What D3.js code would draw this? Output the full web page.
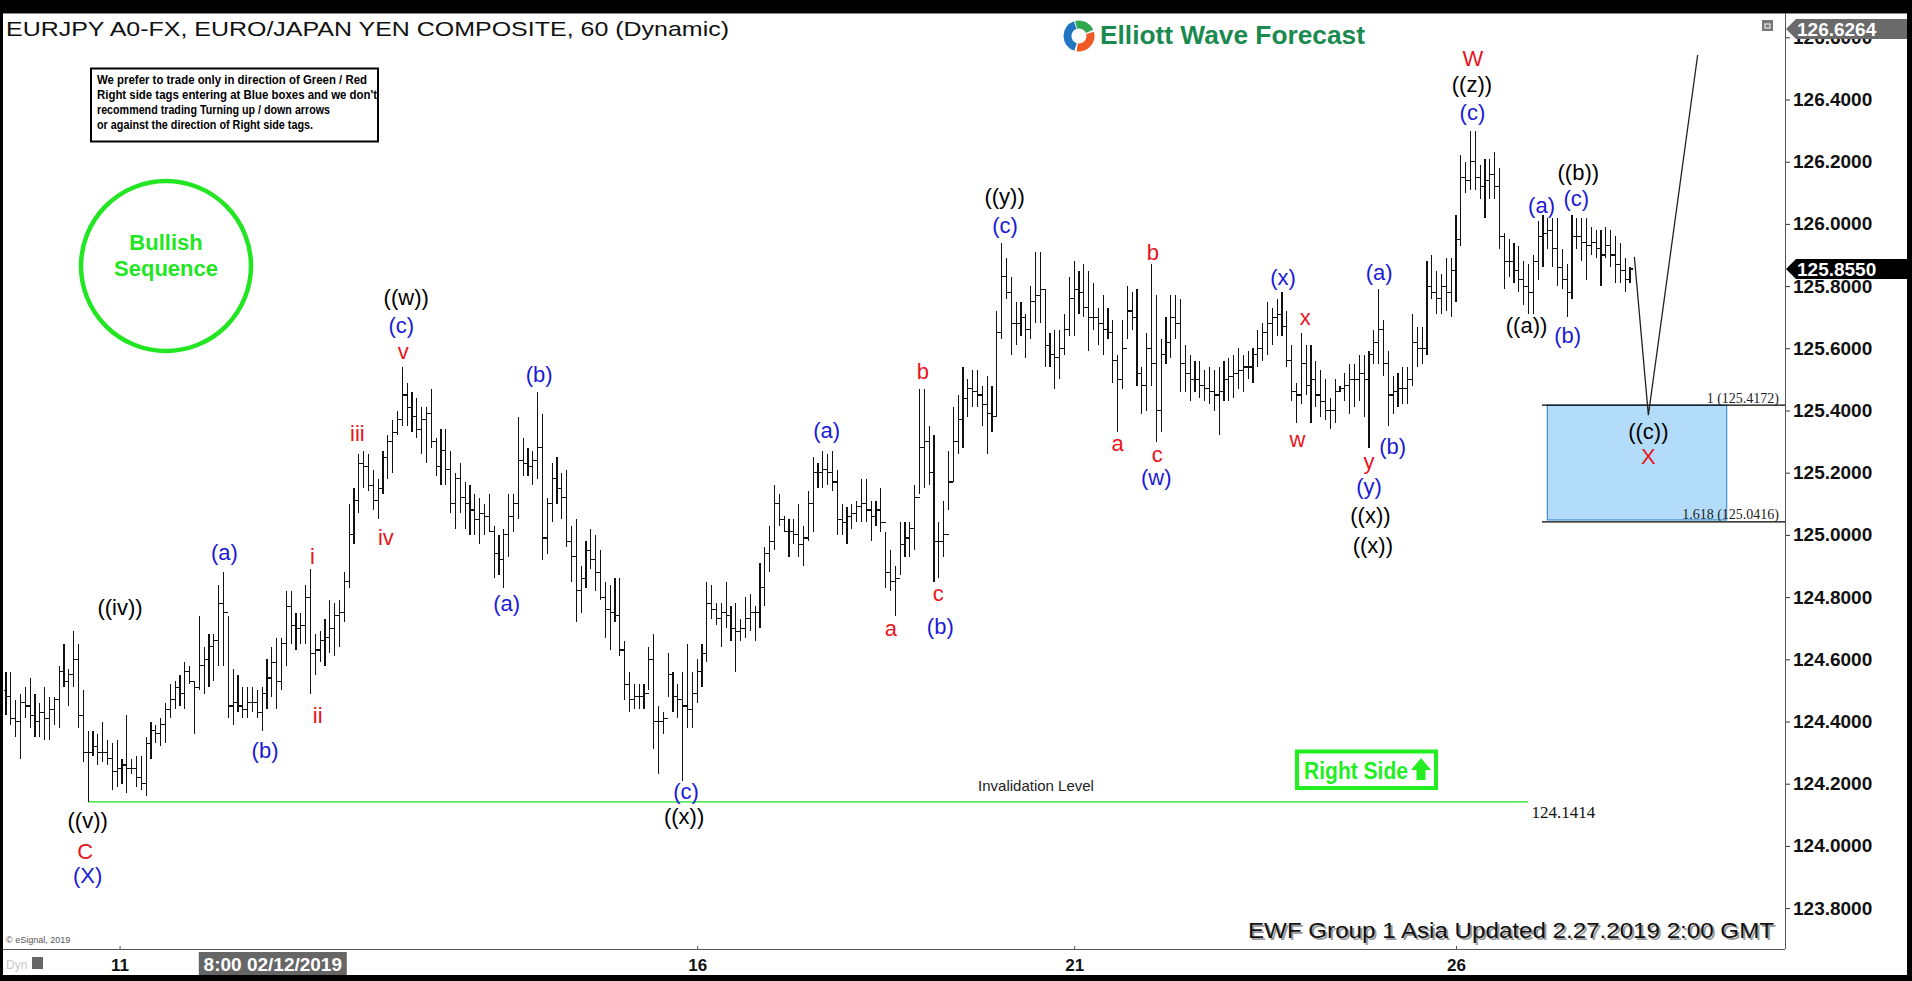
<!DOCTYPE html>
<html><head><meta charset="utf-8">
<script src="https://cdn.jsdelivr.net/npm/d3@7"></script>
<style>body{margin:0;background:#000;overflow:hidden}svg{display:block}</style>
</head><body><svg id="c" width="1912" height="981"></svg>
<script>
// ---------------- DATA ----------------
const highs = [
124.56,124.56,124.47,124.49,124.51,124.54,124.49,124.46,124.51,124.48,
124.48,124.58,124.65,124.57,124.69,124.65,124.50,124.37,124.37,124.36,
124.40,124.34,124.33,124.34,124.28,124.42,124.28,124.29,124.29,124.35,
124.40,124.39,124.41,124.46,124.52,124.53,124.55,124.59,124.58,124.53,
124.74,124.64,124.68,124.68,124.84,124.88,124.74,124.57,124.55,124.51,
124.51,124.51,124.50,124.51,124.60,124.64,124.67,124.67,124.82,124.82,
124.75,124.75,124.84,124.89,124.68,124.69,124.73,124.79,124.78,124.79,
124.88,125.10,125.15,125.26,125.27,125.26,125.21,125.18,125.27,125.32,
125.37,125.40,125.54,125.49,125.46,125.44,125.41,125.41,125.47,125.31,
125.34,125.34,
125.27,125.20,125.23,125.17,125.16,125.13,125.12,125.10,125.13,125.03,
125.00,125.02,125.13,125.13,125.38,125.31,125.28,125.27,125.46,125.39,
125.12,125.23,125.25,125.20,125.21,125.03,125.05,124.90,124.98,125.02,
125.00,124.95,124.85,124.84,124.86,124.86,124.66,124.56,124.52,124.52,
124.52,124.64,124.68,124.45,124.43,124.62,124.56,124.52,124.56,124.65,
124.56,124.60,124.65,124.85,124.84,124.78,124.78,124.85,124.77,124.78,
124.73,124.80,124.81,124.77,124.91,124.96,125.03,125.16,125.13,125.06,
125.05,125.05,125.10,125.03,125.14,125.25,125.23,125.27,125.26,125.27,
125.21,125.10,125.09,125.10,125.11,125.18,125.18,125.11,125.11,125.15,125.01,
124.95,124.90,125.04,125.04,125.04,125.16,125.47,125.47,125.35,125.32,
125.04,125.11,125.27,125.41,125.45,125.54,125.50,125.53,125.53,125.48,
125.51,125.48,125.72,125.94,125.89,125.83,125.75,125.75,125.71,125.80,
125.91,125.91,125.79,125.65,125.66,125.66,125.71,125.83,125.88,125.85,
125.87,125.85,125.81,125.73,125.77,125.73,125.69,125.58,125.69,125.80,
125.78,125.79,125.54,125.65,125.87,125.77,125.63,125.70,125.77,125.77,
125.76,125.61,125.58,125.56,125.56,125.53,125.54,125.53,125.54,125.56,
125.57,125.58,125.60,125.58,125.59,125.60,125.66,125.68,125.75,125.73,
125.76,125.78,125.72,125.61,125.49,125.65,125.61,125.61,125.56,125.53,125.50,
125.44,125.50,125.48,125.52,125.55,125.55,125.58,125.58,125.59,125.66,
125.79,125.69,125.59,125.51,125.52,125.54,125.54,125.71,125.67,125.67,
125.88,125.90,125.85,125.84,125.89,125.89,126.03,126.22,126.20,126.30,
126.30,126.19,126.21,126.21,126.23,126.18,125.97,125.95,125.94,125.93,
125.88,125.87,125.90,126.01,126.03,126.02,126.02,126.02,125.92,125.87,
126.03,126.02,126.02,126.02,125.99,125.98,125.98,125.99,125.98,125.96,
125.94,125.89,125.86];

const lows = [
124.42,124.39,124.35,124.28,124.41,124.38,124.35,124.35,124.34,124.34,
124.39,124.38,124.51,124.45,124.51,124.38,124.27,124.14,124.29,124.26,
124.27,124.26,124.18,124.19,124.20,124.17,124.23,124.19,124.18,124.16,
124.28,124.33,124.32,124.33,124.41,124.44,124.45,124.44,124.52,124.36,
124.50,124.49,124.51,124.53,124.58,124.58,124.41,124.39,124.43,124.41,
124.41,124.43,124.41,124.37,124.44,124.48,124.44,124.50,124.58,124.65,
124.63,124.65,124.65,124.49,124.55,124.59,124.58,124.62,124.61,124.64,
124.72,124.83,124.97,125.07,125.15,125.14,125.08,125.05,125.13,125.18,
125.20,125.32,125.35,125.35,125.33,125.31,125.26,125.23,125.28,125.19,
125.16,125.16,
125.07,125.02,125.07,125.02,125.00,125.00,124.97,125.00,125.01,124.86,
124.87,124.83,124.93,125.01,125.05,125.19,125.19,125.16,125.18,124.92,
124.94,125.04,125.10,125.05,124.96,124.85,124.72,124.75,124.83,124.89,
124.82,124.79,124.67,124.63,124.72,124.61,124.47,124.43,124.44,124.44,
124.44,124.50,124.31,124.23,124.36,124.48,124.43,124.41,124.21,124.38,
124.38,124.46,124.51,124.59,124.73,124.71,124.64,124.70,124.66,124.56,
124.66,124.67,124.69,124.66,124.70,124.77,124.88,124.95,125.03,125.01,
124.93,124.97,124.93,124.90,124.98,125.01,125.15,125.15,125.16,125.14,
125.00,125.00,124.97,125.02,125.04,125.04,125.04,124.98,125.03,125.01,124.83,
124.82,124.74,124.87,124.93,124.93,124.95,125.13,125.15,125.16,124.85,
124.86,124.93,125.08,125.17,125.26,125.28,125.38,125.41,125.41,125.35,
125.26,125.33,125.38,125.63,125.76,125.58,125.61,125.64,125.57,125.63,
125.68,125.68,125.54,125.54,125.47,125.50,125.58,125.64,125.64,125.71,
125.70,125.59,125.66,125.61,125.58,125.63,125.49,125.33,125.47,125.63,
125.66,125.48,125.39,125.40,125.48,125.30,125.33,125.55,125.57,125.63,
125.46,125.46,125.43,125.46,125.44,125.43,125.42,125.40,125.32,125.43,
125.43,125.44,125.47,125.46,125.50,125.49,125.54,125.56,125.58,125.61,
125.64,125.64,125.54,125.43,125.36,125.42,125.45,125.36,125.41,125.38,125.37,
125.34,125.36,125.46,125.43,125.39,125.41,125.43,125.38,125.28,125.55,
125.55,125.51,125.35,125.39,125.41,125.42,125.42,125.48,125.54,125.55,
125.58,125.76,125.71,125.71,125.72,125.70,125.75,125.93,126.10,126.11,
126.11,126.08,126.02,126.08,126.08,125.92,125.79,125.83,125.81,125.78,
125.74,125.71,125.71,125.82,125.86,125.92,125.86,125.80,125.79,125.70,
125.76,125.92,125.88,125.82,125.90,125.89,125.80,125.89,125.86,125.81,
125.81,125.78,125.81];

const closes = [
124.48,124.41,124.40,124.46,124.45,124.42,124.40,124.43,124.41,124.44,
124.47,124.56,124.53,124.55,124.60,124.42,124.30,124.30,124.32,124.30,
124.30,124.28,124.24,124.25,124.26,124.25,124.25,124.22,124.20,124.33,
124.37,124.36,124.39,124.44,124.47,124.51,124.49,124.56,124.53,124.51,
124.58,124.60,124.64,124.66,124.78,124.75,124.45,124.46,124.45,124.44,
124.46,124.46,124.43,124.49,124.54,124.59,124.53,124.65,124.77,124.71,
124.70,124.71,124.80,124.62,124.63,124.66,124.67,124.70,124.74,124.75,
124.85,125.00,125.11,125.23,125.22,125.16,125.11,125.15,125.25,125.30,
125.33,125.37,125.45,125.41,125.38,125.34,125.37,125.39,125.30,125.22,
125.27,125.21,
125.10,125.18,125.12,125.10,125.08,125.05,125.07,125.06,125.01,124.94,
124.92,125.00,125.06,125.10,125.24,125.23,125.22,125.24,125.28,124.99,
125.10,125.18,125.15,125.12,124.98,124.93,124.82,124.86,124.95,124.92,
124.88,124.80,124.76,124.75,124.74,124.63,124.52,124.47,124.48,124.48,
124.49,124.60,124.40,124.40,124.41,124.55,124.48,124.47,124.45,124.44,
124.49,124.56,124.62,124.78,124.76,124.73,124.75,124.74,124.70,124.69,
124.70,124.73,124.75,124.75,124.83,124.94,124.98,125.10,125.05,125.01,
125.01,125.00,124.97,124.99,125.10,125.20,125.20,125.21,125.20,125.17,
125.05,125.04,125.06,125.07,125.09,125.10,125.08,125.06,125.08,125.04,124.88,
124.85,124.86,124.97,124.99,125.02,125.12,125.28,125.30,125.20,124.98,
124.98,125.00,125.17,125.30,125.37,125.44,125.47,125.46,125.45,125.42,
125.39,125.38,125.65,125.83,125.78,125.68,125.68,125.70,125.66,125.75,
125.77,125.79,125.61,125.58,125.57,125.60,125.66,125.76,125.79,125.78,
125.73,125.70,125.70,125.68,125.66,125.65,125.56,125.50,125.60,125.72,
125.70,125.52,125.48,125.60,125.55,125.40,125.58,125.62,125.70,125.68,
125.55,125.52,125.50,125.50,125.48,125.47,125.46,125.45,125.46,125.50,
125.51,125.52,125.53,125.54,125.54,125.58,125.60,125.65,125.68,125.70,
125.71,125.67,125.56,125.46,125.45,125.55,125.48,125.50,125.45,125.43,125.40,
125.40,125.46,125.47,125.48,125.50,125.50,125.52,125.50,125.58,125.62,
125.66,125.55,125.45,125.46,125.47,125.47,125.50,125.62,125.60,125.60,
125.80,125.78,125.76,125.80,125.78,125.85,125.95,126.15,126.14,126.20,
126.15,126.12,126.14,126.16,126.12,125.96,125.88,125.88,125.85,125.82,
125.80,125.78,125.88,125.96,125.97,125.98,125.92,125.86,125.82,125.78,
125.96,125.96,125.94,125.93,125.94,125.92,125.90,125.93,125.90,125.87,
125.85,125.82,125.855];
const firstOpen = 124.50;

const yTicks = [123.8,124.0,124.2,124.4,124.6,124.8,125.0,125.2,125.4,125.6,125.8,126.0,126.2,126.4,126.6];
const dayTickIdx = [23.5, 143, 221, 300];
const dayTickLabels = ["11","16","21","26"];
const crosshairIdx = 55.2;
const crosshairLabel = "8:00 02/12/2019";

const lastPrice = 125.855;
const topPrice = 126.6264;

const invalidation = {price:124.1414, fromIdx:17, toIdx:314.9, label:"Invalidation Level"};
const fibLevels = [{ratio:"1", price:125.4172}, {ratio:"1.618", price:125.0416}];
const fibStartIdx = 317.8;
const blueBoxIdx = [318.9, 356];
const projIdx = [336.9, 339.8, 350];
const projPrice = [125.894, 125.385, 126.543];

// [text, degree, bar index, price]
const waveLabels = [
["((v))","p",16.9,124.081],["C","r",16.4,123.983],["(X)","b",16.9,123.905],
["((iv))","p",23.6,124.766],["(a)","b",45.2,124.945],["(b)","b",53.6,124.308],
["i","r",63.4,124.93],["ii","r",64.5,124.42],["iii","r",72.7,125.327],["iv","r",78.6,124.993],
["v","r",82.2,125.589],["(c)","b",81.8,125.672],["((w))","p",82.8,125.763],
["(a)","b",103.6,124.78],["(b)","b",110.3,125.516],["(c)","b",140.7,124.175],["((x))","p",140.3,124.093],
["(a)","b",169.8,125.337],["a","r",183.1,124.70],["b","r",189.7,125.525],["c","r",192.9,124.812],
["(b)","b",193.3,124.705],["((y))","p",206.6,126.088],["(c)","b",206.7,125.995],
["a","r",230.0,125.295],["b","r",237.3,125.908],["c","r",238.2,125.26],["(w)","b",238.0,125.184],
["(x)","b",264.2,125.828],["x","r",268.8,125.70],["w","r",267.2,125.306],
["(a)","b",284.1,125.844],["y","r",282.0,125.235],["(b)","b",286.9,125.284],["(y)","b",282.0,125.156],
["((x))","p",282.3,125.061],["((x))","p",282.8,124.967],
["W","r",303.5,126.533],["((z))","p",303.3,126.447],["(c)","b",303.4,126.357],
["((a))","p",314.6,125.674],["(a)","b",317.7,126.06],["(b)","b",323.1,125.642],
["((b))","p",325.3,126.164],["(c)","b",324.9,126.081],["((c))","p",339.8,125.331],["X","r",339.8,125.251]
];

const titleText = "EURJPY A0-FX, EURO/JAPAN YEN COMPOSITE, 60 (Dynamic)";
const noteLines = ["We prefer to trade only in direction of Green / Red",
"Right side tags entering at Blue boxes and we don't",
"recommend trading Turning up / down arrows",
"or against the direction of Right side tags."];
const footerText = "EWF Group 1 Asia Updated 2.27.2019 2:00 GMT";

// ---------------- DRAW ----------------
const degreeColor = {p:"#000000", b:"#1a1ad6", r:"#e8141c"};
const SANS = "'Liberation Sans', Arial, sans-serif";
const SERIF = "'Liberation Serif', 'Times New Roman', serif";
const svg = d3.select("#c");
const x = d3.scaleLinear().domain([0, highs.length-1]).range([6, 1630]);
const y = d3.scaleLinear().domain([123.8, 126.4]).range([908.1, 99.5]);

svg.append("rect").attr("width",1912).attr("height",981).attr("fill","#000");
svg.append("rect").attr("x",3).attr("y",13).attr("width",1904).attr("height",962).attr("fill","#fff");
svg.append("line").attr("x1",3).attr("x2",1907).attr("y1",13.5).attr("y2",13.5).attr("stroke","#8a8a8a");

const defs = svg.append("defs");
defs.append("clipPath").attr("id","plot").append("rect").attr("x",3).attr("y",14).attr("width",1782).attr("height",935);
const plot = svg.append("g").attr("clip-path","url(#plot)");

// title
svg.append("text").attr("x",6).attr("y",36).attr("font-family",SANS).attr("font-size",21)
  .attr("textLength",723).attr("lengthAdjust","spacingAndGlyphs").attr("fill","#111").text(titleText);

// note box
svg.append("rect").attr("x",91).attr("y",68.5).attr("width",287).attr("height",73)
  .attr("fill","#fff").attr("stroke","#000").attr("stroke-width",2);
const noteW=[270,280,233,216];
noteLines.forEach((t,i)=>{
  svg.append("text").attr("x",97).attr("y",83.8+i*15).attr("font-family",SANS).attr("font-weight","bold")
   .attr("font-size",12.5).attr("textLength",noteW[i]).attr("lengthAdjust","spacingAndGlyphs").attr("fill","#000").text(t);
});

// logo
const lg = svg.append("g").attr("transform","translate(1079,36)");
const arc = d3.arc().innerRadius(7.5).outerRadius(15.5);
[[-0.25,1.15,"#2fa84f"],[1.3,3.3,"#ef5a24"],[3.45,5.95,"#2176c2"]].forEach(a=>{
  lg.append("path").attr("d",arc({startAngle:a[0],endAngle:a[1]})).attr("fill",a[2]);
});
svg.append("text").attr("x",1100).attr("y",44).attr("font-family",SANS).attr("font-weight","bold")
  .attr("font-size",25).attr("textLength",265).attr("lengthAdjust","spacingAndGlyphs").attr("fill","#1b8a4f").text("Elliott Wave Forecast");

// bullish circle
svg.append("circle").attr("cx",166).attr("cy",266).attr("r",85).attr("fill","none").attr("stroke","#22e622").attr("stroke-width",4.5);
svg.append("text").attr("x",166).attr("y",250).attr("text-anchor","middle").attr("font-family",SANS).attr("font-weight","bold").attr("font-size",22).attr("fill","#22e622").text("Bullish");
svg.append("text").attr("x",166).attr("y",276).attr("text-anchor","middle").attr("font-family",SANS).attr("font-weight","bold").attr("font-size",22).attr("fill","#22e622").text("Sequence");

// blue box + fib lines
plot.append("rect").attr("x",x(blueBoxIdx[0])).attr("y",y(fibLevels[0].price))
  .attr("width",x(blueBoxIdx[1])-x(blueBoxIdx[0])).attr("height",y(fibLevels[1].price)-y(fibLevels[0].price)-2)
  .attr("fill","#b3dcfa").attr("stroke","#3c8fd4").attr("stroke-width",1.2);
fibLevels.forEach(f=>{
  plot.append("line").attr("x1",x(fibStartIdx)).attr("x2",1785).attr("y1",y(f.price)).attr("y2",y(f.price))
    .attr("stroke","#000").attr("stroke-width",1.2);
  svg.append("text").attr("x",1779).attr("y",y(f.price)-2.5).attr("text-anchor","end").attr("font-family",SERIF)
    .attr("font-size",14).attr("fill","#222").text(`${f.ratio} (${f.price.toFixed(4)})`);
});

// invalidation
plot.append("line").attr("x1",x(invalidation.fromIdx)).attr("x2",x(invalidation.toIdx))
  .attr("y1",y(invalidation.price)).attr("y2",y(invalidation.price)).attr("stroke","#5ee65e").attr("stroke-width",1.6);
svg.append("text").attr("x",1036).attr("y",y(invalidation.price)-11).attr("text-anchor","middle").attr("font-family",SANS)
  .attr("font-size",15).attr("fill","#222").text(invalidation.label);
svg.append("text").attr("x",x(invalidation.toIdx)+3.5).attr("y",y(invalidation.price)+16.5).attr("font-family",SERIF)
  .attr("font-size",17).attr("fill","#111").text(invalidation.price.toFixed(4));

// right side tag
svg.append("rect").attr("x",1297).attr("y",751.5).attr("width",139).attr("height",36.5).attr("fill","#fff").attr("stroke","#22ee22").attr("stroke-width",4);
svg.append("text").attr("x",1304).attr("y",779).attr("font-family",SANS).attr("font-weight","bold").attr("font-size",24)
  .attr("textLength",104).attr("lengthAdjust","spacingAndGlyphs").attr("fill","#22ee22").text("Right Side");
svg.append("path").attr("d","M1421,758 L1431,770 L1425.5,770 L1425.5,780 L1416.5,780 L1416.5,770 L1411,770 Z").attr("fill","#22ee22");

// bars
const bars = highs.map((h,i)=>({i, h, l:lows[i], o: i===0?firstOpen:closes[i-1], c:closes[i]}));
const bg = plot.append("g").attr("stroke","#111").attr("stroke-width",1.1).attr("shape-rendering","crispEdges");
bg.selectAll("line.hl").data(bars).join("line").attr("class","hl")
  .attr("x1",d=>x(d.i)).attr("x2",d=>x(d.i)).attr("y1",d=>y(d.h)).attr("y2",d=>y(d.l));
bg.selectAll("line.o").data(bars).join("line").attr("class","o")
  .attr("x1",d=>x(d.i)-2.5).attr("x2",d=>x(d.i)).attr("y1",d=>y(d.o)).attr("y2",d=>y(d.o));
bg.selectAll("line.c").data(bars).join("line").attr("class","c")
  .attr("x1",d=>x(d.i)).attr("x2",d=>x(d.i)+2.5).attr("y1",d=>y(d.c)).attr("y2",d=>y(d.c));

// projection
plot.append("path").attr("d",d3.line().x(d=>x(d[0])).y(d=>y(d[1]))(projIdx.map((v,i)=>[v,projPrice[i]])))
  .attr("fill","none").attr("stroke","#222").attr("stroke-width",1.3);

// wave labels
svg.append("g").selectAll("text").data(waveLabels).join("text")
  .attr("x",d=>x(d[2])).attr("y",d=>y(d[3])).attr("text-anchor","middle").attr("dominant-baseline","central")
  .attr("font-family",SANS).attr("font-size",22).attr("fill",d=>degreeColor[d[1]]).text(d=>d[0]);

// y axis
const ya = svg.append("g").attr("transform","translate(1785,0)")
  .call(d3.axisRight(y).tickValues(yTicks).tickSize(5).tickPadding(3).tickFormat(d3.format(".4f")));
ya.select(".domain").remove();
ya.selectAll("text").attr("font-family",SANS).attr("font-weight","bold").attr("font-size",19).attr("fill","#111");
ya.selectAll("line").attr("stroke","#333");
svg.append("line").attr("x1",1785.5).attr("x2",1785.5).attr("y1",13).attr("y2",949).attr("stroke","#555");

// x axis
const xa = svg.append("g").attr("transform","translate(0,949)")
  .call(d3.axisBottom(x).tickValues(dayTickIdx).tickFormat((d,i)=>dayTickLabels[i]).tickSizeInner(-3).tickSizeOuter(0).tickPadding(10));
xa.select(".domain").remove();
xa.selectAll("text").attr("font-family",SANS).attr("font-weight","bold").attr("font-size",17).attr("fill","#111");
xa.selectAll("line").attr("stroke","#555");
svg.append("line").attr("x1",3).attr("x2",1785).attr("y1",949.5).attr("y2",949.5).attr("stroke","#555");

// crosshair time label
svg.append("rect").attr("x",x(crosshairIdx)-74).attr("y",952).attr("width",148).attr("height",23).attr("fill","#666");
svg.append("text").attr("x",x(crosshairIdx)).attr("y",971).attr("text-anchor","middle").attr("font-family",SANS)
  .attr("font-weight","bold").attr("font-size",19).attr("fill","#fff").text(crosshairLabel);

// price tags (drawn over the axis labels they cover, as in the source chart)
function priceTag(p, fill){
  const yc=y(p);
  svg.append("path").attr("d",`M1786,${yc} L1796,${yc-10} L1907,${yc-10} L1907,${yc+10} L1796,${yc+10} Z`).attr("fill",fill);
  svg.append("text").attr("x",1797).attr("y",yc).attr("dy","0.36em").attr("font-family",SANS).attr("font-weight","bold")
    .attr("font-size",19).attr("fill","#fff").text(p.toFixed(4));
}
priceTag(topPrice,"#6a6a6a");
priceTag(lastPrice,"#000");

// small restore icon
svg.append("rect").attr("x",1762).attr("y",20).attr("width",11).attr("height",11).attr("fill","#777");
svg.append("rect").attr("x",1765).attr("y",24).attr("width",5).attr("height",4).attr("fill","none").attr("stroke","#fff").attr("stroke-width",1);

// footer
svg.append("text").attr("x",1250).attr("y",939.5).attr("font-family",SANS).attr("font-size",22)
  .attr("textLength",526).attr("lengthAdjust","spacingAndGlyphs").attr("fill","#9a9a9a").text(footerText);
svg.append("text").attr("x",1248).attr("y",937.5).attr("font-family",SANS).attr("font-size",22)
  .attr("textLength",526).attr("lengthAdjust","spacingAndGlyphs").attr("fill","#111").text(footerText);
svg.append("text").attr("x",6).attr("y",943).attr("font-family",SANS).attr("font-size",9).attr("fill","#555").text("© eSignal, 2019");
svg.append("text").attr("x",6).attr("y",969).attr("font-family",SANS).attr("font-size",12).attr("fill","#c8c8c8").text("Dyn");
svg.append("rect").attr("x",32).attr("y",957).attr("width",11).attr("height",12).attr("fill","#666");
</script></body></html>
